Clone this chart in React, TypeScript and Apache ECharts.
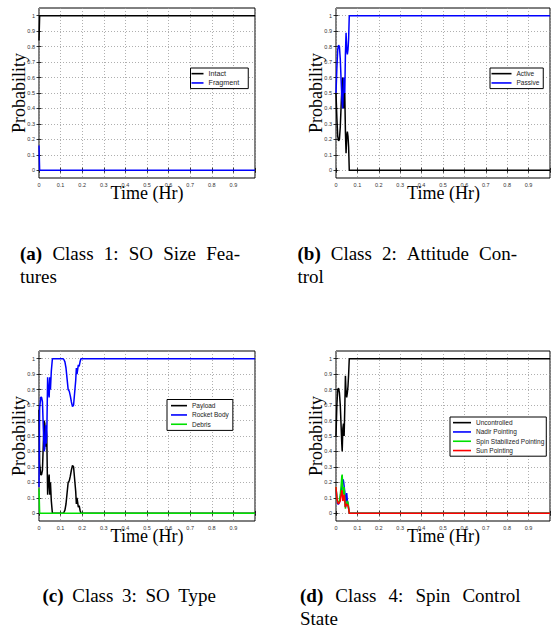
import React, { useEffect, useRef } from "react";
import * as echarts from "echarts";

// ---------- data ----------
const yTicks = [0, 0.1, 0.2, 0.3, 0.4, 0.5, 0.6, 0.7, 0.8, 0.9, 1];

// (a) Class 1: SO Size Features
const timeA = [0, 0.003, 1];
const intact = [0.84, 1, 1];
const fragment = [0.16, 0, 0];

// (b) Class 2: Attitude Control
const timeB = [0, 0.004, 0.008, 0.012, 0.016, 0.02, 0.024, 0.028, 0.031, 0.034, 0.036, 0.038, 0.041, 0.044, 0.047, 0.05, 0.053, 0.056, 0.059, 0.062, 1];
const active = [0.5, 0.34, 0.22, 0.19, 0.2, 0.28, 0.42, 0.55, 0.6, 0.48, 0.4, 0.48, 0.5, 0.25, 0.11, 0.22, 0.25, 0.22, 0.15, 0, 0];
const passive = [0.5, 0.66, 0.78, 0.81, 0.8, 0.72, 0.58, 0.45, 0.4, 0.52, 0.6, 0.52, 0.5, 0.75, 0.89, 0.78, 0.75, 0.78, 0.85, 1, 1];

// (c) Class 3: SO Type
const timeC = [0, 0.003, 0.008, 0.012, 0.016, 0.02, 0.024, 0.027, 0.03, 0.033, 0.036, 0.04, 0.043, 0.047, 0.05, 0.053, 0.057, 0.062, 0.11, 0.115, 0.12, 0.125, 0.13, 0.135, 0.14, 0.145, 0.15, 0.155, 0.16, 0.165, 0.17, 0.173, 0.176, 0.179, 0.182, 0.186, 0.19, 0.194, 1];
const payload = [0.67, 0.32, 0.25, 0.25, 0.28, 0.45, 0.6, 0.58, 0.43, 0.55, 0.5, 0.12, 0.2, 0.25, 0.12, 0.2, 0.08, 0, 0, 0.005, 0.02, 0.06, 0.13, 0.2, 0.21, 0.24, 0.28, 0.31, 0.3, 0.22, 0.14, 0.06, 0.1, 0.07, 0.04, 0.05, 0.02, 0, 0];
const rocketBody = [0.17, 0.68, 0.75, 0.75, 0.72, 0.55, 0.4, 0.42, 0.57, 0.45, 0.5, 0.88, 0.8, 0.75, 0.88, 0.8, 0.92, 1, 1, 0.995, 0.98, 0.94, 0.87, 0.8, 0.79, 0.76, 0.72, 0.69, 0.7, 0.78, 0.86, 0.94, 0.9, 0.93, 0.96, 0.95, 0.98, 1, 1];
const timeDebris = [0, 0.003, 1];
const debris = [0.16, 0, 0];

// (d) Class 4: Spin Control State
const timeD = [0, 0.004, 0.008, 0.012, 0.016, 0.02, 0.024, 0.027, 0.029, 0.032, 0.035, 0.038, 0.041, 0.044, 0.047, 0.05, 0.053, 0.056, 0.059, 0.062, 1];
const uncontrolled = [0.5, 0.7, 0.8, 0.81, 0.78, 0.7, 0.56, 0.45, 0.4, 0.55, 0.58, 0.5, 0.68, 0.89, 0.78, 0.75, 0.78, 0.82, 0.9, 1, 1];
const nadir = [0.16, 0.1, 0.06, 0.06, 0.07, 0.1, 0.14, 0.16, 0.21, 0.22, 0.21, 0.21, 0.14, 0.04, 0.1, 0.13, 0.08, 0.06, 0.03, 0, 0];
const spinStab = [0.17, 0.1, 0.07, 0.07, 0.08, 0.12, 0.18, 0.24, 0.25, 0.15, 0.12, 0.17, 0.1, 0.03, 0.07, 0.06, 0.08, 0.07, 0.04, 0, 0];
const sun = [0.17, 0.1, 0.07, 0.06, 0.07, 0.08, 0.12, 0.15, 0.14, 0.08, 0.09, 0.12, 0.08, 0.04, 0.05, 0.06, 0.06, 0.05, 0.03, 0, 0];

// captions
const captionA1 = ["(a)", "Class", "1:", "SO", "Size", "Fea-"];
const captionA2 = ["tures"];
const captionB1 = ["(b)", "Class", "2:", "Attitude", "Con-"];
const captionB2 = ["trol"];
const captionC1 = ["(c)", "Class", "3:", "SO", "Type"];
const captionD1 = ["(d)", "Class", "4:", "Spin", "Control"];
const captionD2 = ["State"];

const xTitle = "Time (Hr)";
const yTitle = "Probability";

// ---------- layout ----------
const grids = [
  { left: 39, top: 8, width: 216, height: 170 },
  { left: 336, top: 8, width: 215, height: 170 },
  { left: 39, top: 351, width: 216, height: 170 },
  { left: 336, top: 351, width: 215, height: 170 },
];

const BLACK = "#000000";
const BLUE = "#0000ff";
const GREEN = "#00e000";
const RED = "#ff0000";

const pairs = (t: number[], v: number[]) => t.map((x, i) => [x, v[i]]);

const panels = [
  {
    series: [
      { name: "Intact", t: timeA, v: intact, color: BLACK },
      { name: "Fragment", t: timeA, v: fragment, color: BLUE },
    ],
    legend: { left: 190.5, top: 68, itemWidth: 12, padding: [1, 9, 1, 1], fontSize: 7.2 },
  },
  {
    series: [
      { name: "Active", t: timeB, v: active, color: BLACK },
      { name: "Passive", t: timeB, v: passive, color: BLUE },
    ],
    legend: { left: 490, top: 68, itemWidth: 20, padding: [1, 4, 1, 1.5], fontSize: 6.5 },
  },
  {
    series: [
      { name: "Payload", t: timeC, v: payload, color: BLACK },
      { name: "Rocket Body", t: timeC, v: rocketBody, color: BLUE },
      { name: "Debris", t: timeDebris, v: debris, color: GREEN },
    ],
    legend: { left: 167, top: 399.5, itemWidth: 16, padding: [1.5, 4, 1.5, 4], fontSize: 6.5 },
  },
  {
    series: [
      { name: "Uncontrolled", t: timeD, v: uncontrolled, color: BLACK },
      { name: "Nadir Pointing", t: timeD, v: nadir, color: BLUE },
      { name: "Spin Stabilized Pointing", t: timeD, v: spinStab, color: GREEN },
      { name: "Sun Pointing", t: timeD, v: sun, color: RED },
    ],
    legend: { left: 450, top: 417, itemWidth: 18, padding: [1, 2, 1, 3], fontSize: 6.5 },
  },
];

const captions = [
  { words: captionA1, x0: 20, x1: 240, y: 253, justify: true },
  { words: captionA2, x0: 20, x1: 240, y: 276.5, justify: false },
  { words: captionB1, x0: 297.5, x1: 517, y: 253, justify: true },
  { words: captionB2, x0: 297.5, x1: 517, y: 276.5, justify: false },
  { words: captionC1, x0: 42.5, x1: 216, y: 595, justify: true },
  { words: captionD1, x0: 300, x1: 520.5, y: 595, justify: true },
  { words: captionD2, x0: 300, x1: 520.5, y: 618, justify: false },
];

const CAP_SIZE = 19;
const SERIF = '"Liberation Serif", "Times New Roman", serif';
const SANS = '"Liberation Sans", Arial, Helvetica, sans-serif';

function captionElements() {
  const canvas = document.createElement("canvas");
  const ctx = canvas.getContext("2d")!;
  const els: any[] = [];
  captions.forEach((c) => {
    const widths = c.words.map((w, i) => {
      const bold = /^\(.\)$/.test(w) && i === 0;
      ctx.font = `${bold ? "bold " : ""}${CAP_SIZE}px ${SERIF}`;
      return ctx.measureText(w).width;
    });
    const total = widths.reduce((a, b) => a + b, 0);
    const n = c.words.length;
    const gap = c.justify && n > 1 ? (c.x1 - c.x0 - total) / (n - 1) : 0;
    let x = c.x0;
    c.words.forEach((w, i) => {
      const bold = /^\(.\)$/.test(w) && i === 0;
      els.push({
        type: "text",
        x,
        y: c.y,
        silent: true,
        style: {
          text: w,
          font: `${bold ? "bold " : ""}${CAP_SIZE}px ${SERIF}`,
          fill: "#000",
          align: "left",
          verticalAlign: "middle",
        },
      });
      x += widths[i] + gap;
    });
  });
  return els;
}

export default function App() {
  const ref = useRef<HTMLDivElement>(null);

  useEffect(() => {
    if (!ref.current) return;
    const chart = echarts.init(ref.current, undefined, { renderer: "svg" });

    const tickStyle = { inside: true, length: 2.5, lineStyle: { color: "#000", width: 0.8 } };
    const splitStyle = { show: true, lineStyle: { color: "#9a9a9a", type: [1, 2] as any, width: 0.8 } };

    const xAxis: any[] = [];
    const yAxis: any[] = [];
    const series: any[] = [];
    const legend: any[] = [];
    const graphic: any[] = [];

    grids.forEach((g, i) => {
      xAxis.push({
        type: "value",
        gridIndex: i,
        min: 0,
        max: 1,
        interval: 0.1,
        axisLine: { show: false },
        axisTick: tickStyle,
        axisLabel: {
          fontSize: 5.5,
          color: "#333",
          fontFamily: SANS,
          margin: 4,
          formatter: (v: number) => (v > 0.95 ? "" : String(Math.round(v * 10) / 10)),
        },
        splitLine: splitStyle,
      });
      xAxis.push({
        type: "value",
        gridIndex: i,
        position: "top",
        min: 0,
        max: 1,
        interval: 0.1,
        axisLine: { show: false },
        axisTick: tickStyle,
        axisLabel: { show: false },
        splitLine: { show: false },
      });
      yAxis.push({
        type: "value",
        gridIndex: i,
        min: -0.05,
        max: 1.05,
        axisLine: { show: false },
        axisTick: { ...tickStyle, customValues: yTicks },
        axisLabel: {
          customValues: yTicks,
          fontSize: 5.5,
          color: "#333",
          fontFamily: SANS,
          margin: 4,
          formatter: (v: number) => String(Math.round(v * 10) / 10),
        },
        splitLine: splitStyle,
      });
      yAxis.push({
        type: "value",
        gridIndex: i,
        position: "right",
        min: -0.05,
        max: 1.05,
        axisLine: { show: false },
        axisTick: { ...tickStyle, customValues: yTicks },
        axisLabel: { show: false },
        splitLine: { show: false },
      });

      const p = panels[i];
      p.series.forEach((s) => {
        series.push({
          type: "line",
          name: s.name,
          xAxisIndex: 2 * i,
          yAxisIndex: 2 * i,
          data: pairs(s.t, s.v),
          symbol: "none",
          showSymbol: false,
          lineStyle: { color: s.color, width: 1.5 },
          itemStyle: { color: s.color },
          silent: true,
        });
      });
      legend.push({
        orient: "vertical",
        left: p.legend.left,
        top: p.legend.top,
        data: p.series.map((s) => s.name),
        icon: "rect",
        borderColor: "#000",
        borderWidth: 1,
        backgroundColor: "#fff",
        padding: p.legend.padding,
        itemGap: 0,
        itemWidth: p.legend.itemWidth,
        itemHeight: 1.6,
        selectedMode: false,
        textStyle: { fontSize: p.legend.fontSize, fontFamily: SANS, color: "#222", lineHeight: 9.3 },
      });

      graphic.push({
        type: "text",
        x: g.left + g.width / 2,
        y: g.top + g.height + 15,
        silent: true,
        style: { text: xTitle, font: `18px ${SERIF}`, fill: "#000", align: "center", verticalAlign: "middle" },
      });
      graphic.push({
        type: "text",
        x: g.left - 20.5,
        y: g.top + g.height / 2,
        rotation: Math.PI / 2,
        silent: true,
        style: { text: yTitle, font: `18px ${SERIF}`, fill: "#000", align: "center", verticalAlign: "middle" },
      });
    });

    graphic.push(...captionElements());

    chart.setOption({
      animation: false,
      backgroundColor: "#fff",
      grid: grids.map((g) => ({ ...g, show: true, borderColor: "#000", borderWidth: 1, backgroundColor: "transparent", containLabel: false })),
      xAxis,
      yAxis,
      legend,
      series,
      graphic,
    });

    return () => chart.dispose();
  }, []);

  return <div ref={ref} style={{ position: "absolute", left: 0, top: 0, width: 553, height: 628 }} />;
}
